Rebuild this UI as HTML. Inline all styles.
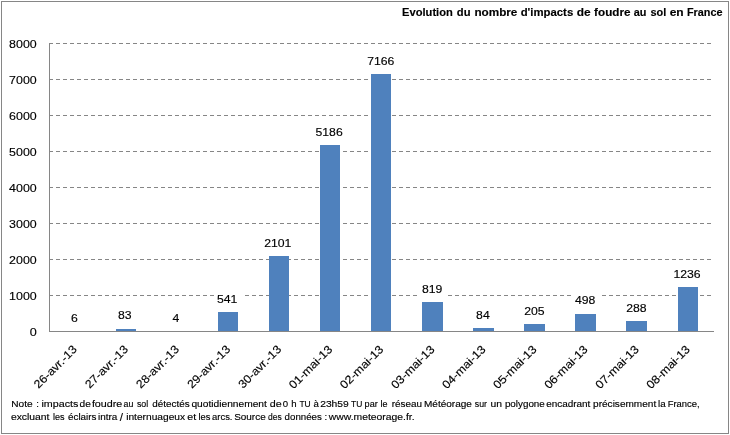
<!DOCTYPE html>
<html lang="fr"><head><meta charset="utf-8"><title>Evolution du nombre d'impacts de foudre au sol en France</title>
<style>html,body{margin:0;padding:0;background:#fff}svg{display:block}text{font-family:"Liberation Sans",Arial,sans-serif;fill:#000;stroke:#000;stroke-width:0.15px}</style></head><body>
<svg width="730" height="435" viewBox="0 0 730 435">
<rect x="0" y="0" width="730" height="435" fill="#fff"/>
<rect x="1.5" y="1.5" width="727" height="432" fill="none" stroke="#868686" stroke-width="1"/>
<line x1="49" y1="295.5" x2="712" y2="295.5" stroke="#868686" stroke-width="1" stroke-dasharray="4 3" shape-rendering="crispEdges"/>
<line x1="49" y1="259.5" x2="712" y2="259.5" stroke="#868686" stroke-width="1" stroke-dasharray="4 3" shape-rendering="crispEdges"/>
<line x1="49" y1="223.5" x2="712" y2="223.5" stroke="#868686" stroke-width="1" stroke-dasharray="4 3" shape-rendering="crispEdges"/>
<line x1="49" y1="187.5" x2="712" y2="187.5" stroke="#868686" stroke-width="1" stroke-dasharray="4 3" shape-rendering="crispEdges"/>
<line x1="49" y1="151.5" x2="712" y2="151.5" stroke="#868686" stroke-width="1" stroke-dasharray="4 3" shape-rendering="crispEdges"/>
<line x1="49" y1="115.5" x2="712" y2="115.5" stroke="#868686" stroke-width="1" stroke-dasharray="4 3" shape-rendering="crispEdges"/>
<line x1="49" y1="79.5" x2="712" y2="79.5" stroke="#868686" stroke-width="1" stroke-dasharray="4 3" shape-rendering="crispEdges"/>
<line x1="49" y1="43.5" x2="712" y2="43.5" stroke="#868686" stroke-width="1" stroke-dasharray="4 3" shape-rendering="crispEdges"/>
<rect x="116" y="329" width="20" height="2" fill="#4f81bd"/>
<rect x="218" y="312" width="20" height="19" fill="#4f81bd"/>
<rect x="269" y="256" width="20" height="75" fill="#4f81bd"/>
<rect x="320" y="145" width="20" height="186" fill="#4f81bd"/>
<rect x="371" y="74" width="20" height="257" fill="#4f81bd"/>
<rect x="422" y="302" width="21" height="29" fill="#4f81bd"/>
<rect x="473" y="328" width="21" height="3" fill="#4f81bd"/>
<rect x="524" y="324" width="21" height="7" fill="#4f81bd"/>
<rect x="575" y="314" width="21" height="17" fill="#4f81bd"/>
<rect x="626" y="321" width="21" height="10" fill="#4f81bd"/>
<rect x="678" y="287" width="20" height="44" fill="#4f81bd"/>
<line x1="49.5" y1="43" x2="49.5" y2="332" stroke="#868686" stroke-width="1" shape-rendering="crispEdges"/>
<line x1="49" y1="331.5" x2="714" y2="331.5" stroke="#868686" stroke-width="1" shape-rendering="crispEdges"/>
<text x="36.7" y="335.7" font-size="11.5" text-anchor="end" textLength="7.0" lengthAdjust="spacingAndGlyphs">0</text>
<text x="36.7" y="299.7" font-size="11.5" text-anchor="end" textLength="27.6" lengthAdjust="spacingAndGlyphs">1000</text>
<text x="36.7" y="263.7" font-size="11.5" text-anchor="end" textLength="27.6" lengthAdjust="spacingAndGlyphs">2000</text>
<text x="36.7" y="227.7" font-size="11.5" text-anchor="end" textLength="27.6" lengthAdjust="spacingAndGlyphs">3000</text>
<text x="36.7" y="191.7" font-size="11.5" text-anchor="end" textLength="27.6" lengthAdjust="spacingAndGlyphs">4000</text>
<text x="36.7" y="155.7" font-size="11.5" text-anchor="end" textLength="27.6" lengthAdjust="spacingAndGlyphs">5000</text>
<text x="36.7" y="119.7" font-size="11.5" text-anchor="end" textLength="27.6" lengthAdjust="spacingAndGlyphs">6000</text>
<text x="36.7" y="83.7" font-size="11.5" text-anchor="end" textLength="27.6" lengthAdjust="spacingAndGlyphs">7000</text>
<text x="36.7" y="47.7" font-size="11.5" text-anchor="end" textLength="27.6" lengthAdjust="spacingAndGlyphs">8000</text>
<text x="74.3" y="322" font-size="11.5" text-anchor="middle" textLength="6.8" lengthAdjust="spacingAndGlyphs">6</text>
<text x="124.8" y="319" font-size="11.5" text-anchor="middle" textLength="13.6" lengthAdjust="spacingAndGlyphs">83</text>
<text x="176.0" y="322" font-size="11.5" text-anchor="middle" textLength="6.8" lengthAdjust="spacingAndGlyphs">4</text>
<rect x="214" y="291" width="31" height="16" fill="#fff"/>
<text x="227.2" y="303" font-size="11.5" text-anchor="middle" textLength="20.4" lengthAdjust="spacingAndGlyphs">541</text>
<text x="277.8" y="247" font-size="11.5" text-anchor="middle" textLength="27.2" lengthAdjust="spacingAndGlyphs">2101</text>
<text x="329.1" y="136" font-size="11.5" text-anchor="middle" textLength="27.2" lengthAdjust="spacingAndGlyphs">5186</text>
<text x="380.8" y="65" font-size="11.5" text-anchor="middle" textLength="27.2" lengthAdjust="spacingAndGlyphs">7166</text>
<rect x="417.5" y="281" width="30.0" height="16" fill="#fff"/>
<text x="432.1" y="293" font-size="11.5" text-anchor="middle" textLength="20.4" lengthAdjust="spacingAndGlyphs">819</text>
<text x="482.9" y="319" font-size="11.5" text-anchor="middle" textLength="13.6" lengthAdjust="spacingAndGlyphs">84</text>
<text x="534.4" y="315" font-size="11.5" text-anchor="middle" textLength="20.4" lengthAdjust="spacingAndGlyphs">205</text>
<rect x="571" y="292" width="29" height="16" fill="#fff"/>
<text x="585.2" y="304" font-size="11.5" text-anchor="middle" textLength="20.4" lengthAdjust="spacingAndGlyphs">498</text>
<text x="636.4" y="312" font-size="11.5" text-anchor="middle" textLength="20.4" lengthAdjust="spacingAndGlyphs">288</text>
<text x="687.0" y="278" font-size="11.5" text-anchor="middle" textLength="27.2" lengthAdjust="spacingAndGlyphs">1236</text>
<text transform="translate(77.7,350) rotate(-45)" x="0" y="0" font-size="11.5" text-anchor="end" textLength="55.3" lengthAdjust="spacingAndGlyphs">26-avr.-13</text>
<text transform="translate(128.8,350) rotate(-45)" x="0" y="0" font-size="11.5" text-anchor="end" textLength="55.3" lengthAdjust="spacingAndGlyphs">27-avr.-13</text>
<text transform="translate(179.9,350) rotate(-45)" x="0" y="0" font-size="11.5" text-anchor="end" textLength="55.3" lengthAdjust="spacingAndGlyphs">28-avr.-13</text>
<text transform="translate(231.0,350) rotate(-45)" x="0" y="0" font-size="11.5" text-anchor="end" textLength="55.3" lengthAdjust="spacingAndGlyphs">29-avr.-13</text>
<text transform="translate(282.0,350) rotate(-45)" x="0" y="0" font-size="11.5" text-anchor="end" textLength="55.3" lengthAdjust="spacingAndGlyphs">30-avr.-13</text>
<text transform="translate(333.1,350) rotate(-45)" x="0" y="0" font-size="11.5" text-anchor="end" textLength="56.0" lengthAdjust="spacingAndGlyphs">01-mai-13</text>
<text transform="translate(384.2,350) rotate(-45)" x="0" y="0" font-size="11.5" text-anchor="end" textLength="56.0" lengthAdjust="spacingAndGlyphs">02-mai-13</text>
<text transform="translate(435.3,350) rotate(-45)" x="0" y="0" font-size="11.5" text-anchor="end" textLength="56.0" lengthAdjust="spacingAndGlyphs">03-mai-13</text>
<text transform="translate(486.4,350) rotate(-45)" x="0" y="0" font-size="11.5" text-anchor="end" textLength="56.0" lengthAdjust="spacingAndGlyphs">04-mai-13</text>
<text transform="translate(537.4,350) rotate(-45)" x="0" y="0" font-size="11.5" text-anchor="end" textLength="56.0" lengthAdjust="spacingAndGlyphs">05-mai-13</text>
<text transform="translate(588.5,350) rotate(-45)" x="0" y="0" font-size="11.5" text-anchor="end" textLength="56.0" lengthAdjust="spacingAndGlyphs">06-mai-13</text>
<text transform="translate(639.6,350) rotate(-45)" x="0" y="0" font-size="11.5" text-anchor="end" textLength="56.0" lengthAdjust="spacingAndGlyphs">07-mai-13</text>
<text transform="translate(690.7,350) rotate(-45)" x="0" y="0" font-size="11.5" text-anchor="end" textLength="56.0" lengthAdjust="spacingAndGlyphs">08-mai-13</text>
<text y="15.8" font-size="11.4" font-weight="bold" stroke="none">
<tspan x="402.1" textLength="50.7" lengthAdjust="spacingAndGlyphs">Evolution</tspan> 
<tspan x="456.8" textLength="13.7" lengthAdjust="spacingAndGlyphs">du</tspan> 
<tspan x="474.4" textLength="43.0" lengthAdjust="spacingAndGlyphs">nombre</tspan> 
<tspan x="520.7" textLength="52.5" lengthAdjust="spacingAndGlyphs">d'impacts</tspan> 
<tspan x="576.8" textLength="13.9" lengthAdjust="spacingAndGlyphs">de</tspan> 
<tspan x="594.1" textLength="36.4" lengthAdjust="spacingAndGlyphs">foudre</tspan> 
<tspan x="633.8" textLength="12.7" lengthAdjust="spacingAndGlyphs">au</tspan> 
<tspan x="650.5" textLength="15.8" lengthAdjust="spacingAndGlyphs">sol</tspan> 
<tspan x="669.7" textLength="14.0" lengthAdjust="spacingAndGlyphs">en</tspan> 
<tspan x="687.0" textLength="35.5" lengthAdjust="spacingAndGlyphs">France</tspan> 
</text>
<text y="407" font-size="9.6" stroke-width="0.12">
<tspan x="11.3" y="407" textLength="21.4" lengthAdjust="spacingAndGlyphs">Note</tspan> 
<tspan x="36.2" y="407">:</tspan> 
<tspan x="41.5" y="407" textLength="36.8" lengthAdjust="spacingAndGlyphs">impacts</tspan> 
<tspan x="79.6" y="407" textLength="11.3" lengthAdjust="spacingAndGlyphs">de</tspan> 
<tspan x="91.9" y="407" textLength="30.4" lengthAdjust="spacingAndGlyphs">foudre</tspan> 
<tspan x="123.6" y="407" textLength="9.8" lengthAdjust="spacingAndGlyphs">au</tspan> 
<tspan x="136.9" y="407" textLength="11.3" lengthAdjust="spacingAndGlyphs">sol</tspan> 
<tspan x="152.3" y="407" textLength="37.3" lengthAdjust="spacingAndGlyphs">détectés</tspan> 
<tspan x="191.4" y="407" textLength="75.5" lengthAdjust="spacingAndGlyphs">quotidiennement</tspan> 
<tspan x="269.8" y="407" textLength="11.9" lengthAdjust="spacingAndGlyphs">de</tspan> 
<tspan x="282.7" y="407">0</tspan> 
<tspan x="291.3" y="407">h</tspan> 
<tspan x="299.4" y="407" textLength="11.3" lengthAdjust="spacingAndGlyphs">TU</tspan> 
<tspan x="313.5" y="407">à</tspan> 
<tspan x="320.2" y="407" textLength="28.6" lengthAdjust="spacingAndGlyphs">23h59</tspan> 
<tspan x="351.0" y="407" textLength="11.3" lengthAdjust="spacingAndGlyphs">TU</tspan> 
<tspan x="364.6" y="407" textLength="13.1" lengthAdjust="spacingAndGlyphs">par</tspan> 
<tspan x="380.6" y="407" textLength="7.0" lengthAdjust="spacingAndGlyphs">le</tspan> 
<tspan x="391.7" y="407" textLength="30.3" lengthAdjust="spacingAndGlyphs">réseau</tspan> 
<tspan x="424.0" y="407" textLength="47.9" lengthAdjust="spacingAndGlyphs">Météorage</tspan> 
<tspan x="474.8" y="407" textLength="12.2" lengthAdjust="spacingAndGlyphs">sur</tspan> 
<tspan x="490.5" y="407" textLength="11.5" lengthAdjust="spacingAndGlyphs">un</tspan> 
<tspan x="504.9" y="407" textLength="39.9" lengthAdjust="spacingAndGlyphs">polygone</tspan> 
<tspan x="546.2" y="407" textLength="44.2" lengthAdjust="spacingAndGlyphs">encadrant</tspan> 
<tspan x="593.1" y="407" textLength="63.1" lengthAdjust="spacingAndGlyphs">précisemment</tspan> 
<tspan x="658.1" y="407" textLength="7.6" lengthAdjust="spacingAndGlyphs">la</tspan> 
<tspan x="667.7" y="407" textLength="31.9" lengthAdjust="spacingAndGlyphs">France,</tspan> 
</text>
<text y="420" font-size="9.6" stroke-width="0.12">
<tspan x="10.9" y="420" textLength="38.6" lengthAdjust="spacingAndGlyphs">excluant</tspan> 
<tspan x="52.9" y="420" textLength="11.6" lengthAdjust="spacingAndGlyphs">les</tspan> 
<tspan x="68.0" y="420" textLength="28.4" lengthAdjust="spacingAndGlyphs">éclairs</tspan> 
<tspan x="98.1" y="420" textLength="19.3" lengthAdjust="spacingAndGlyphs">intra</tspan> 
<tspan x="119.8" y="421.2" font-size="11.6">/</tspan> 
<tspan x="126.2" y="420" textLength="58.9" lengthAdjust="spacingAndGlyphs">internuageux</tspan> 
<tspan x="187.3" y="420" textLength="8.9" lengthAdjust="spacingAndGlyphs">et</tspan> 
<tspan x="198.4" y="420" textLength="11.9" lengthAdjust="spacingAndGlyphs">les</tspan> 
<tspan x="212.0" y="420" textLength="20.5" lengthAdjust="spacingAndGlyphs">arcs.</tspan> 
<tspan x="234.2" y="420" textLength="31.5" lengthAdjust="spacingAndGlyphs">Source</tspan> 
<tspan x="268.0" y="420" textLength="13.7" lengthAdjust="spacingAndGlyphs">des</tspan> 
<tspan x="284.6" y="420" textLength="37.2" lengthAdjust="spacingAndGlyphs">données</tspan> 
<tspan x="324.5" y="420">:</tspan> 
<tspan x="328.8" y="420" textLength="85.8" lengthAdjust="spacingAndGlyphs">www.meteorage.fr.</tspan> 
</text>
</svg></body></html>
